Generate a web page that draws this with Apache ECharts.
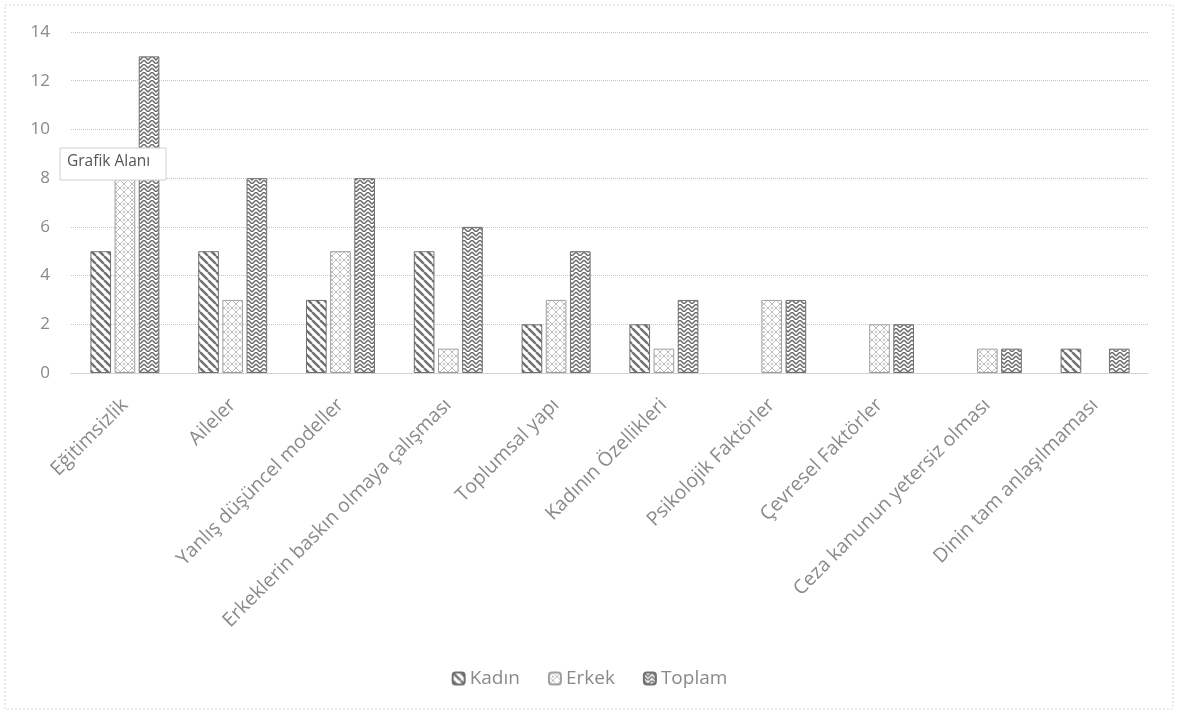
<!DOCTYPE html>
<html><head><meta charset="utf-8">
<script src="https://cdn.jsdelivr.net/npm/echarts@6/dist/echarts.min.js"></script>
<style>html,body{margin:0;padding:0;background:#fff}#c{width:1179px;height:716px}</style>
</head><body><div id="c"></div>
<script>
const categories = ["Eğitimsizlik","Aileler","Yanlış düşüncel modeller","Erkeklerin baskın olmaya çalışması","Toplumsal yapı","Kadının Özellikleri","Psikolojik Faktörler","Çevresel Faktörler","Ceza kanunun yetersiz olması","Dinin tam anlaşılmaması"];
const kadin  = [5,5,3,5,2,2,0,0,0,1];
const erkek  = [8,3,5,1,3,1,3,2,1,0];
const toplam = [13,8,8,6,5,3,3,2,1,1];
const yTicks = [0,2,4,6,8,10,12,14];

function mk(w,h,draw){const c=document.createElement('canvas');c.width=w;c.height=h;const g=c.getContext('2d');g.fillStyle='#fff';g.fillRect(0,0,w,h);draw(g);return c;}
const patKadin = mk(8,8,g=>{g.strokeStyle='#707070';g.lineWidth=2.4;g.beginPath();
  for(let k=-8;k<=16;k+=8){g.moveTo(k,0);g.lineTo(k+8,8);} g.stroke();});
const patErkek = mk(8,8,g=>{g.strokeStyle='#bdbdbd';g.lineWidth=1;g.beginPath();
  g.moveTo(4,0);g.lineTo(8,4);g.lineTo(4,8);g.lineTo(0,4);g.closePath();g.stroke();
  g.fillStyle='#c8c8c8';g.fillRect(3,3,2,2);});
const patToplam = mk(8,8,g=>{g.strokeStyle='#6c6c6c';g.lineWidth=1.5;g.beginPath();
  g.moveTo(0,0);g.lineTo(4,4);g.lineTo(8,0);
  g.moveTo(0,4);g.lineTo(2,6);
  g.moveTo(8,4);g.lineTo(6,6);
  g.moveTo(4,8);g.lineTo(2,6);g.moveTo(4,8);g.lineTo(6,6);
  g.stroke();});

const fontFam = '"Open Sans", "Liberation Sans", sans-serif';
function ser(name,data,pat,border){return {name,type:'bar',
  data:data.map(v=>v===0?null:v),barGap:'17%',barCategoryGap:'36%',
  itemStyle:{color:{image:pat,repeat:'repeat'},borderColor:border,borderWidth:1},emphasis:{disabled:true}};}

const chart = echarts.init(document.getElementById('c'));
chart.setOption({
  animation:false,
  grid:{left:71,right:30,top:32,bottom:343,containLabel:false},
  legend:{bottom:23,left:'center',itemWidth:12,itemHeight:12,itemGap:28,
    textStyle:{color:'#8a8a8a',fontSize:19,fontFamily:fontFam},
    data:['Kadın','Erkek','Toplam']},
  xAxis:{type:'category',data:categories,
    axisLine:{lineStyle:{color:'#c8c8c8',type:'dotted'}},axisTick:{show:false},
    axisLabel:{rotate:45,interval:0,color:'#8a8a8a',fontSize:19.5,fontFamily:fontFam,margin:29}},
  yAxis:{type:'value',min:0,max:14,interval:2,
    axisLine:{show:false},axisTick:{show:false},
    splitLine:{lineStyle:{color:'#c4c4c4',type:'dotted'}},
    axisLabel:{color:'#8a8a8a',fontSize:17,fontFamily:fontFam,margin:21,
      formatter:v=>yTicks.includes(v)?String(v):''}},
  series:[ser('Kadın',kadin,patKadin,'#707070'),ser('Erkek',erkek,patErkek,'#a0a0a0'),ser('Toplam',toplam,patToplam,'#707070')],
  graphic:[
    {type:'rect',shape:{x:5,y:5,width:1168,height:704},style:{fill:'none',stroke:'#d8d8d8',lineDash:[2,2],lineWidth:1},silent:true,z:-1},
    {type:'rect',shape:{x:60,y:148,width:106,height:32},style:{fill:'#fff',stroke:'#d0d0d0',lineWidth:1},z:100},
    {type:'text',x:67,y:154,style:{text:'Grafik Alanı',fill:'#555',font:'15.5px '+fontFam},z:101}
  ]
});
</script></body></html>
